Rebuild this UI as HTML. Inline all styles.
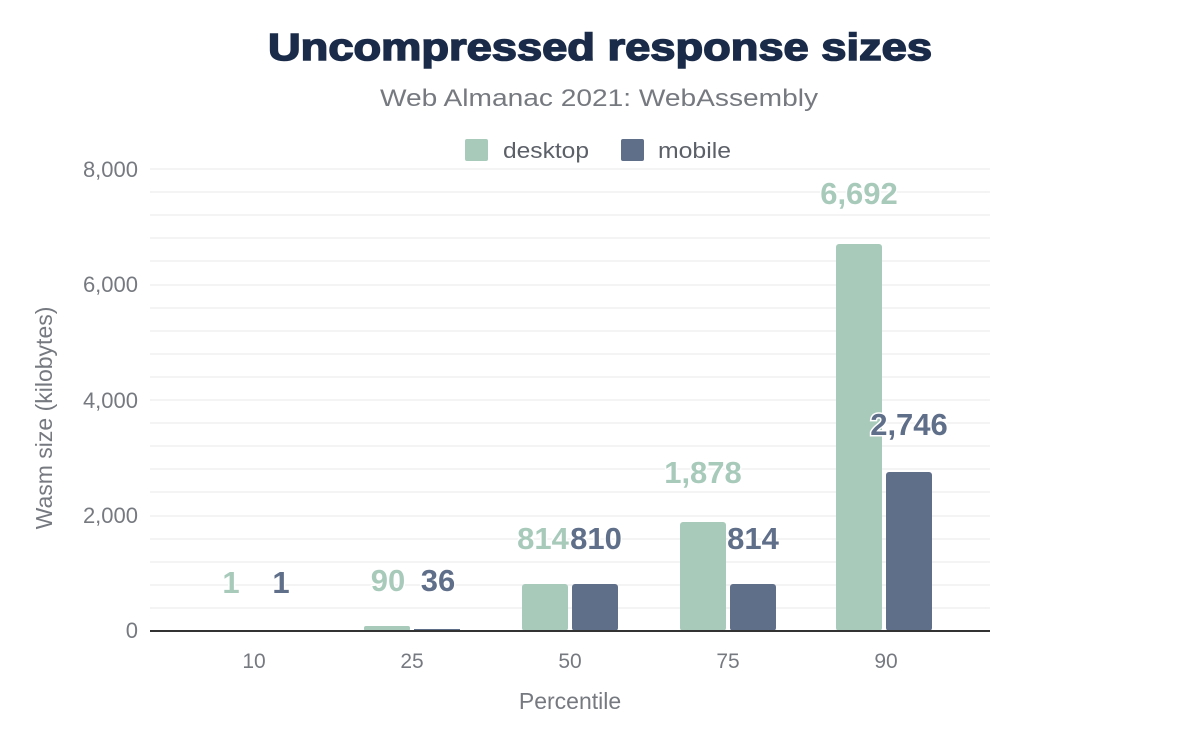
<!DOCTYPE html>
<html><head><meta charset="utf-8"><style>body{margin:0;background:#fff}</style></head><body>
<svg width="1200" height="742" xmlns="http://www.w3.org/2000/svg" font-family="'Liberation Sans', sans-serif">
<rect width="1200" height="742" fill="#fff"/>
<text x="268" y="60" textLength="664" lengthAdjust="spacingAndGlyphs" font-size="38" font-weight="900" fill="#1a2b49" stroke="#1a2b49" stroke-width="1.5">Uncompressed response sizes</text>
<text x="380" y="106" textLength="438" lengthAdjust="spacingAndGlyphs" font-size="24" fill="#767a80">Web Almanac 2021: WebAssembly</text>
<rect x="465" y="139" width="23" height="22" rx="2" fill="#a8cabb"/>
<text x="503" y="158" textLength="86" lengthAdjust="spacingAndGlyphs" font-size="22" fill="#5c6068">desktop</text>
<rect x="621" y="139" width="23" height="22" rx="2" fill="#5f6e89"/>
<text x="658" y="158" textLength="73" lengthAdjust="spacingAndGlyphs" font-size="22" fill="#5c6068">mobile</text>
<g stroke="#f0f0f0" stroke-width="1.5">
<line x1="150" x2="990" y1="169" y2="169"/><line x1="150" x2="990" y1="192" y2="192"/><line x1="150" x2="990" y1="215" y2="215"/><line x1="150" x2="990" y1="238" y2="238"/><line x1="150" x2="990" y1="261" y2="261"/><line x1="150" x2="990" y1="285" y2="285"/><line x1="150" x2="990" y1="308" y2="308"/><line x1="150" x2="990" y1="331" y2="331"/><line x1="150" x2="990" y1="354" y2="354"/><line x1="150" x2="990" y1="377" y2="377"/><line x1="150" x2="990" y1="400" y2="400"/><line x1="150" x2="990" y1="423" y2="423"/><line x1="150" x2="990" y1="446" y2="446"/><line x1="150" x2="990" y1="469" y2="469"/><line x1="150" x2="990" y1="492" y2="492"/><line x1="150" x2="990" y1="516" y2="516"/><line x1="150" x2="990" y1="539" y2="539"/><line x1="150" x2="990" y1="562" y2="562"/><line x1="150" x2="990" y1="585" y2="585"/><line x1="150" x2="990" y1="608" y2="608"/>
</g>
<g font-size="22" fill="#767a80" text-anchor="end">
<text x="138" y="177">8,000</text><text x="138" y="292">6,000</text><text x="138" y="408">4,000</text><text x="138" y="523">2,000</text><text x="138" y="638">0</text>
</g>
<text transform="translate(52,418) rotate(-90)" text-anchor="middle" font-size="23" fill="#767a80">Wasm size (kilobytes)</text>
<g fill="#a8cabb">
<rect x="364" y="626" width="46" height="5" rx="2"/>
<rect x="522" y="584" width="46" height="47" rx="3"/>
<rect x="680" y="522" width="46" height="109" rx="3"/>
<rect x="836" y="244" width="46" height="387" rx="3"/>
</g>
<g fill="#5f6e89">
<rect x="414" y="629" width="46" height="2"/>
<rect x="572" y="584" width="46" height="47" rx="3"/>
<rect x="730" y="584" width="46" height="47" rx="3"/>
<rect x="886" y="472" width="46" height="159" rx="3"/>
</g>
<line x1="150" x2="990" y1="631" y2="631" stroke="#333" stroke-width="2"/>
<g font-size="21" fill="#767a80" text-anchor="middle">
<text x="254" y="668">10</text><text x="412" y="668">25</text><text x="570" y="668">50</text><text x="728" y="668">75</text><text x="886" y="668">90</text>
</g>
<text x="570" y="709" text-anchor="middle" font-size="23" fill="#767a80">Percentile</text>
<g font-size="31" font-weight="bold" text-anchor="middle" stroke="#fff" stroke-width="3" paint-order="stroke">
<text x="231" y="593" fill="#a8cabb">1</text>
<text x="281" y="593" fill="#5f6e89">1</text>
<text x="388" y="591" fill="#a8cabb">90</text>
<text x="438" y="591" fill="#5f6e89">36</text>
<text x="543" y="549" fill="#a8cabb">814</text>
<text x="596" y="549" fill="#5f6e89">810</text>
<text x="703" y="483" fill="#a8cabb">1,878</text>
<text x="753" y="549" fill="#5f6e89">814</text>
<text x="859" y="204" fill="#a8cabb">6,692</text>
<text x="909" y="435" fill="#5f6e89">2,746</text>
</g>
</svg>
</body></html>
